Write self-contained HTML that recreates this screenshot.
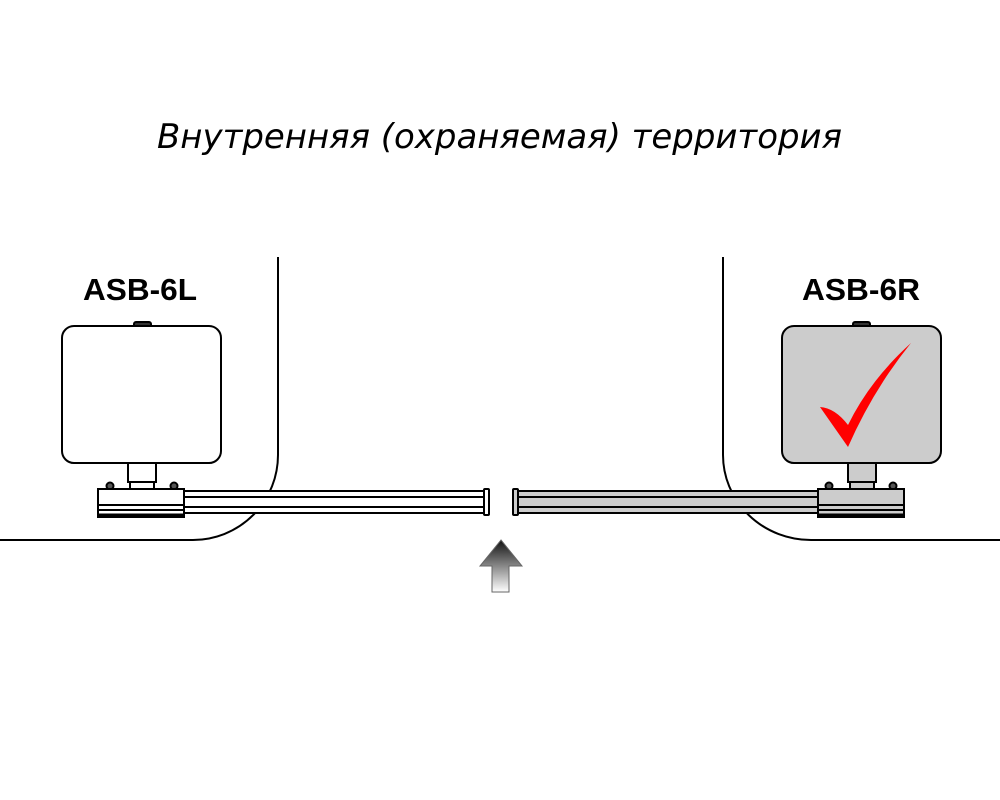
<!DOCTYPE html>
<html><head><meta charset="utf-8"><style>html,body{margin:0;padding:0;background:#fff}svg{display:block}</style></head>
<body>
<svg width="1000" height="800" viewBox="0 0 1000 800" xmlns="http://www.w3.org/2000/svg">
<defs>
<linearGradient id="ag" x1="0" y1="0" x2="0" y2="1">
<stop offset="0" stop-color="#111"/><stop offset="1" stop-color="#fff"/>
</linearGradient>
</defs>
<text x="157" y="148" font-family="'DejaVu Sans','Liberation Sans',sans-serif" font-style="italic" font-size="34" textLength="685" lengthAdjust="spacingAndGlyphs" fill="#000">Внутренняя (охраняемая) территория</text>
<text x="83" y="300" font-family="'Liberation Sans',sans-serif" font-weight="bold" font-size="31" textLength="114" lengthAdjust="spacingAndGlyphs">ASB-6L</text>
<text x="802" y="300" font-family="'Liberation Sans',sans-serif" font-weight="bold" font-size="31" textLength="118" lengthAdjust="spacingAndGlyphs">ASB-6R</text>

<g fill="none" stroke="#000" stroke-width="2">
<path d="M278 257 V455 A85 85 0 0 1 193 540 H0"/>
<path d="M723 257 V455 A88 85 0 0 0 811 540 H1000"/>
</g>

<g stroke="#000" stroke-width="2" fill="#fff">
<rect x="134" y="322" width="17" height="5" rx="2" fill="#333"/>
<rect x="62" y="326" width="159" height="137" rx="12"/>
<rect x="128" y="463" width="28" height="19"/>
<rect x="130" y="482" width="24" height="7"/>
<circle cx="110" cy="486" r="3.5" fill="#555"/>
<circle cx="174" cy="486" r="3.5" fill="#555"/>
<rect x="184" y="491" width="302" height="22"/>
<line x1="184" y1="497" x2="486" y2="497"/>
<line x1="184" y1="507" x2="486" y2="507"/>
<rect x="484" y="489" width="5" height="26" rx="1"/>
<rect x="98" y="489" width="86" height="28"/>
<line x1="98" y1="505" x2="184" y2="505"/>
<line x1="98" y1="510" x2="184" y2="510"/>
<line x1="98" y1="515" x2="184" y2="515" stroke-width="3"/>
</g>

<g stroke="#000" stroke-width="2" fill="#ccc">
<rect x="853" y="322" width="17" height="5" rx="2" fill="#333"/>
<rect x="782" y="326" width="159" height="137" rx="12"/>
<rect x="848" y="463" width="28" height="19"/>
<rect x="850" y="482" width="24" height="7"/>
<circle cx="829" cy="486" r="3.5" fill="#555"/>
<circle cx="893" cy="486" r="3.5" fill="#555"/>
<rect x="517" y="491" width="301" height="22"/>
<line x1="517" y1="497" x2="818" y2="497"/>
<line x1="517" y1="507" x2="818" y2="507"/>
<rect x="513" y="489" width="5" height="26" rx="1"/>
<rect x="818" y="489" width="86" height="28"/>
<line x1="818" y1="505" x2="904" y2="505"/>
<line x1="818" y1="510" x2="904" y2="510"/>
<line x1="818" y1="515" x2="904" y2="515" stroke-width="3"/>
</g>
<path d="M820 407 Q835 408 848 425 Q870 380 911 343 Q873 390 848 447 Z" fill="#f00"/>

<path d="M501 540 L522 566 L509 566 L509 592 L492 592 L492 566 L480 566 Z" fill="url(#ag)" stroke="#666" stroke-width="1"/>
</svg>
</body></html>
